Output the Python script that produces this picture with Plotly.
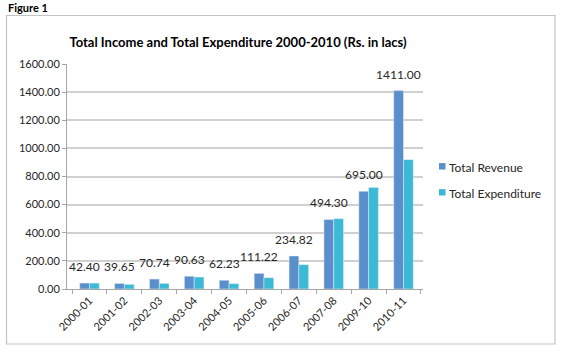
import plotly.graph_objects as go

categories = ["2000-01", "2001-02", "2002-03", "2003-04", "2004-05",
              "2005-06", "2006-07", "2007-08", "2009-10", "2010-11"]
revenue = [42.40, 39.65, 70.74, 90.63, 62.23, 111.22, 234.82, 494.30, 695.00, 1411.00]
expenditure = [42.0, 33.0, 40.0, 85.0, 38.0, 80.0, 173.0, 500.0, 722.0, 920.0]
series_names = ["Total Revenue", "Total Expenditure"]

c_rev = "#5B8FCB"
c_exp = "#3CB9D4"
FONT = "Lato"

L, R, T, B = 67, 423, 64, 289
W, H = R - L, B - T
def px(x):
    return (x - L) / W
def py(y):
    return (B - y) / H

fig = go.Figure()
fig.add_trace(go.Bar(x=categories, y=revenue, marker_color=c_rev, showlegend=False,
                     name=series_names[0]))
fig.add_trace(go.Bar(x=categories, y=expenditure, marker_color=c_exp, showlegend=False,
                     name=series_names[1]))

# data labels above revenue bars
for c, v in zip(categories, revenue):
    fig.add_annotation(x=c, y=v, text=f"{v:.2f}", xref="x", yref="y",
                       xanchor="center", yanchor="bottom", xshift=-5, yshift=7,
                       showarrow=False,
                       font=dict(family=FONT, size=12, color="#262626"))

fig.update_layout(
    width=561, height=350,
    margin=dict(l=L, r=561 - R, t=T, b=350 - B),
    paper_bgcolor="white", plot_bgcolor="white",
    barmode="group", bargap=0.44, bargroupgap=0,
    font=dict(family=FONT, size=11, color="#404040"),
    title=dict(text="<b>Total Income and Total Expenditure 2000-2010 (Rs. in lacs)</b>",
               x=238 / 561, xanchor="center", y=1 - 42 / 350, yanchor="middle",
               font=dict(family=FONT, size=13, color="#000000")),
    showlegend=False,
)
fig.update_xaxes(type="category", showline=True, linecolor="#A6A6A6", linewidth=1,
                 ticks="outside", tickson="boundaries", ticklen=4, tickcolor="#A6A6A6",
                 tickangle=-45, tickfont=dict(family=FONT, size=11, color="#262626"),
                 showgrid=False)
fig.update_yaxes(range=[0, 1600], dtick=200, tickformat=".2f",
                 showline=True, linecolor="#A6A6A6", linewidth=1,
                 ticks="outside", ticklen=4, tickcolor="#A6A6A6",
                 gridcolor="#D0D0D0", gridwidth=1.5, zeroline=False,
                 tickfont=dict(family=FONT, size=11, color="#262626"))

# manual legend
for i, (name, col) in enumerate(zip(series_names, [c_rev, c_exp])):
    yc = 166.3 + 26 * i
    fig.add_shape(type="rect", xref="paper", yref="paper",
                  x0=px(439), x1=px(445.5), y0=py(yc + 3.2), y1=py(yc - 3.2),
                  fillcolor=col, line=dict(width=0))
    fig.add_annotation(text=name, xref="paper", yref="paper",
                       x=px(447), y=py(yc + 1), xanchor="left", yanchor="middle",
                       showarrow=False,
                       font=dict(family=FONT, size=12, color="#262626"))

fig.add_annotation(text="<b>Figure 1</b>", xref="paper", yref="paper",
                   x=px(6), y=py(8), xanchor="left", yanchor="middle", showarrow=False,
                   font=dict(family=FONT, size=11, color="#000000"))
fig.add_shape(type="rect", xref="paper", yref="paper",
              x0=px(6.5), x1=px(555), y0=py(344), y1=py(15.5),
              line=dict(color="#C4C4C4", width=1.2), layer="below")

fig.write_html("out.html")
